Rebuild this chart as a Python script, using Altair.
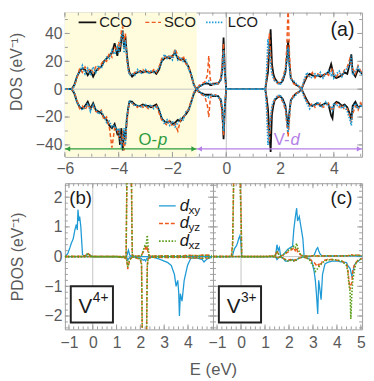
import altair as alt
import pandas as pd

FONT = "Liberation Sans"

# ---------------- Panel (a): total DOS ----------------
E_top = [-6.0, -5.75, -5.65, -5.55, -5.45, -5.35, -5.25, -5.15, -5.05, -4.95,
         -4.85, -4.75, -4.65, -4.55, -4.45, -4.35, -4.25, -4.15, -4.05, -4.0,
         -3.95, -3.9, -3.85, -3.8, -3.75, -3.7, -3.65, -3.6, -3.5, -3.4,
         -3.3, -3.2, -3.1, -3.0, -2.9, -2.8, -2.7, -2.6, -2.5, -2.4,
         -2.3, -2.2, -2.1, -2.0, -1.9, -1.8, -1.7, -1.6, -1.5, -1.4,
         -1.3, -1.2, -1.1, -1.0, -0.9, -0.8, -0.7, -0.65, -0.6, -0.55,
         -0.5, -0.4, -0.3, -0.2, -0.15, -0.1, -0.05, 0.0, 1.45, 1.5,
         1.55, 1.6, 1.65, 1.7, 1.75, 1.8, 1.9, 2.0, 2.1, 2.2,
         2.25, 2.3, 2.35, 2.4, 2.5, 2.6, 2.7, 2.8, 2.9, 3.0,
         3.1, 3.2, 3.3, 3.4, 3.5, 3.6, 3.7, 3.8, 3.9, 3.95,
         4.0, 4.1, 4.2, 4.3, 4.4, 4.5, 4.6, 4.65, 4.7, 4.8,
         4.9, 5.0, 5.05]

CCO_up = [0, 0, 3, 9, 13, 15, 14, 10, 13, 9,
          13, 15, 16, 20, 22, 24, 26, 33, 24, 30,
          27, 36, 42, 30, 38, 26, 17, 12, 9, 11,
          12, 13, 12, 13, 12, 12, 13, 11, 14, 20,
          22, 23, 22, 24, 26, 22, 21, 22, 19, 16,
          10, 3, 0, 2, 3, 4, 4, 4, 3, 3,
          4, 4, 4, 7, 14, 37, 12, 0, 0, 6,
          12, 28, 43, 18, 11, 8, 5, 4, 6, 12,
          22, 35, 18, 8, 5, 3, 2, 0, 5, 9,
          11, 10, 9, 10, 9, 10, 11, 12, 18, 14,
          9, 8, 9, 10, 12, 11, 19, 25, 12, 9,
          14, 12, 11]
CCO_dn = [0, 0, -3, -9, -13, -14, -12, -9, -14, -10,
          -15, -16, -17, -20, -22, -26, -28, -25, -32, -30,
          -40, -28, -44, -30, -36, -22, -14, -9, -9, -11,
          -12, -12, -11, -12, -12, -13, -12, -11, -15, -21,
          -23, -24, -23, -25, -24, -22, -23, -20, -18, -15,
          -9, -3, 0, -2, -3, -4, -4, -4, -4, -4,
          -5, -5, -5, -8, -15, -36, -12, 0, 0, -6,
          -14, -30, -45, -18, -12, -8, -6, -5, -7, -12,
          -20, -28, -16, -8, -5, -3, -2, 0, -4, -8,
          -11, -12, -11, -10, -12, -11, -10, -11, -19, -21,
          -11, -9, -10, -12, -11, -13, -18, -22, -12, -9,
          -13, -12, -11]
SCO_up = [0, 0, 2, 8, 15, 12, 16, 13, 15, 12,
          16, 14, 18, 21, 20, 26, 23, 30, 28, 34,
          30, 42, 45, 34, 40, 22, 15, 11, 10, 12,
          13, 12, 14, 12, 13, 11, 14, 12, 16, 22,
          24, 21, 25, 23, 29, 24, 20, 24, 18, 17,
          9, 3, 0, 3, 4, 5, 10, 24, 8, 4,
          3, 5, 4, 8, 18, 33, 8, 0, 0, 8,
          22, 40, 25, 12, 9, 6, 4, 5, 8, 15,
          30, 60, 25, 9, 4, 3, 2, 0, 6, 10,
          9, 12, 8, 11, 10, 9, 12, 10, 13, 15,
          11, 9, 12, 10, 14, 16, 22, 18, 15, 11,
          17, 13, 12]
SCO_dn = [0, 0, -2, -8, -14, -12, -15, -11, -14, -12,
          -16, -17, -15, -22, -20, -27, -42, -28, -28, -34,
          -33, -40, -30, -44, -38, -25, -16, -10, -10, -12,
          -13, -11, -13, -12, -14, -12, -13, -12, -17, -22,
          -24, -26, -22, -27, -25, -30, -22, -21, -17, -14,
          -8, -2, 0, -3, -4, -5, -12, -20, -8, -4,
          -5, -4, -5, -9, -20, -33, -9, 0, 0, -8,
          -28, -38, -22, -13, -10, -7, -5, -6, -9, -15,
          -25, -34, -22, -9, -4, -3, -2, 0, -5, -9,
          -12, -10, -13, -11, -10, -13, -12, -10, -14, -16,
          -12, -10, -13, -11, -15, -14, -20, -24, -18, -12,
          -15, -10, -12]
LCO_up = [0, 0, 2, 10, 12, 17, 11, 15, 10, 16,
          12, 17, 15, 19, 23, 22, 28, 25, 30, 26,
          33, 38, 40, 26, 35, 24, 14, 10, 11, 10,
          14, 11, 12, 14, 11, 13, 12, 13, 15, 19,
          25, 22, 24, 21, 27, 21, 23, 20, 21, 14,
          11, 2, 0, 2, 3, 4, 5, 6, 4, 3,
          4, 3, 5, 6, 12, 28, 10, 0, 0, 12,
          36, 28, 18, 11, 8, 6, 5, 3, 7, 13,
          20, 30, 15, 7, 6, 4, 2, 0, 7, 12,
          9, 8, 11, 9, 12, 8, 11, 13, 10, 12,
          8, 11, 13, 9, 13, 15, 18, 24, 10, 13,
          16, 12, 10]
LCO_dn = [0, 0, -2, -10, -12, -15, -13, -10, -16, -11,
          -14, -18, -16, -19, -24, -23, -27, -26, -30, -28,
          -35, -42, -36, -28, -40, -20, -15, -8, -10, -12,
          -11, -13, -12, -11, -13, -11, -14, -12, -14, -20,
          -25, -22, -26, -23, -27, -24, -21, -22, -16, -15,
          -10, -2, 0, -2, -3, -5, -5, -6, -4, -4,
          -5, -4, -6, -7, -12, -30, -10, 0, 0, -14,
          -40, -32, -20, -12, -9, -7, -5, -4, -8, -13,
          -22, -31, -18, -8, -6, -4, -2, 0, -6, -10,
          -14, -11, -12, -9, -13, -12, -9, -12, -13, -15,
          -10, -12, -11, -14, -12, -16, -22, -26, -14, -10,
          -14, -11, -13]
series_names = ["CCO", "SCO", "LCO"]
region_names = ["O-", "V-"]
region_letters = ["p", "d"]
region_edges = [-6.0, -1.1, 5.05]

# ---------------- Panel (b): V4+ PDOS ----------------
E_b = [-1.17, -1.05, -0.96, -0.9, -0.82, -0.75, -0.69, -0.65, -0.62, -0.58,
       -0.55, -0.5, -0.47, -0.43, -0.35, -0.25, -0.2, -0.12, 0.0, 0.5,
       1.0, 1.4, 1.44, 1.47, 1.5, 1.55, 1.62, 1.66, 1.75, 2.0,
       2.05, 2.08, 2.12, 2.18, 2.22, 2.26, 2.29, 2.32, 2.36, 2.5,
       2.75, 3.0, 3.15, 3.3, 3.43, 3.5, 3.57, 3.61, 3.64, 3.68,
       3.75, 3.84, 3.98, 4.12, 4.4, 4.6, 4.67, 4.8, 5.0]
b_xy_up = [0.0, 0.1, 0.3, 0.45, 0.6, 0.9, 1.08, 0.9, 1.58, 1.2,
           1.35, 1.0, 0.6, 0.07, 0.0, 0.05, 0.1, 0.05, 0.0, 0.0,
           0.0, 0.0, 0.05, 0.15, 0.22, 0.05, 0.02, 0.0, 0.0, 0.0,
           0.0, 0.0, 0.0, 0.0, 0.0, 0.0, 0.0, 0.0, 0.0, 0.0,
           0.0, 0.0, 0.0, 0.0, 0.0, 0.0, 0.0, 0.0, 0.0, 0.0,
           0.0, 0.0, 0.0, 0.0, 0.0, 0.0, 0.0, 0.0, 0.0]
b_xy_dn = [0.0, 0.0, 0.0, 0.0, 0.0, 0.0, 0.0, 0.0, 0.0, 0.0,
           0.0, 0.0, 0.0, 0.0, 0.0, 0.0, 0.0, 0.0, 0.0, 0.0,
           0.0, 0.0, -0.05, -0.12, -0.08, -0.03, 0.0, 0.0, -0.02, -0.05,
           -0.08, -0.1, -0.12, -0.1, -0.15, -0.08, -0.05, -0.05, -0.03, -0.02,
           -0.07, -0.15, -0.2, -0.3, -0.6, -1.0, -0.8, -1.2, -2.0, -1.25,
           -1.5, -0.8, -0.3, -0.05, -0.05, -0.1, -0.18, -0.08, -0.02]
b_yz_up = [0, 0, 0, 0, 0, 0, 0, 0, 0, 0,
           0, 0, 0, 0, 0.02, 0.08, 0.1, 0.05, 0, 0,
           0, 0, 3.0, 2.9, 3.0, 3.0, 3.0, 0.05, 0.02, 0.02,
           0.05, 0.1, 0.15, 0.25, 0.3, 0.2, 0.35, 0.15, 0.03, 0.02,
           0.02, 0.03, 0.02, 0.02, 0.03, 0.02, 0.02, 0.02, 0.02, 0.02,
           0.02, 0.03, 0.05, 0.04, 0.03, 0.05, 0.04, 0.05, 0.03]
b_yz_dn = [0, 0, 0, 0, 0, 0, 0, 0, 0, 0,
           0, 0, 0, 0, 0, 0, 0, 0, 0, 0,
           0, -0.05, -0.2, -0.42, -0.3, -0.1, -0.05, -0.02, -0.02, -0.1,
           -0.3, -2.7, -2.7, -2.7, -2.7, -2.7, -0.3, -0.1, -0.05, -0.02,
           -0.02, -0.03, -0.03, -0.02, -0.03, -0.02, -0.03, -0.03, -0.02, -0.02,
           -0.02, -0.02, -0.03, -0.05, -0.04, -0.06, -0.05, -0.05, -0.03]
b_xz_up = [0, 0, 0, 0, 0, 0, 0, 0, 0, 0,
           0, 0, 0, 0, 0.02, 0.08, 0.1, 0.05, 0, 0,
           0, 0, 3.0, 3.0, 2.9, 3.0, 3.0, 0.05, 0.02, 0.02,
           0.05, 0.1, 0.2, 0.35, 0.3, 0.5, 0.72, 0.4, 0.05, 0.02,
           0.02, 0.02, 0.03, 0.02, 0.02, 0.03, 0.02, 0.02, 0.02, 0.03,
           0.02, 0.02, 0.03, 0.04, 0.03, 0.04, 0.05, 0.04, 0.03]
b_xz_dn = [0, 0, 0, 0, 0, 0, 0, 0, 0, 0,
           0, 0, 0, 0, 0, 0, 0, 0, 0, 0,
           0, -0.05, -0.15, -0.35, -0.25, -0.1, -0.05, -0.02, -0.02, -0.08,
           -0.25, -2.7, -2.7, -2.7, -2.7, -2.7, -0.35, -0.1, -0.05, -0.02,
           -0.02, -0.02, -0.03, -0.02, -0.02, -0.03, -0.02, -0.02, -0.03, -0.02,
           -0.02, -0.03, -0.02, -0.04, -0.03, -0.05, -0.04, -0.04, -0.03]

# ---------------- Panel (c): V3+ PDOS ----------------
E_c = [-1.17, -0.8, -0.5, -0.4, -0.35, -0.3, -0.25, -0.2, -0.15, -0.1,
       -0.05, 0.0, 0.03, 0.5, 1.0, 1.4, 1.45, 1.5, 1.55, 1.6,
       1.65, 1.75, 1.85, 1.95, 2.05, 2.15, 2.2, 2.26, 2.32, 2.36,
       2.43, 2.5, 2.58, 2.63, 2.75, 2.9, 2.95, 3.05, 3.1, 3.15,
       3.2, 3.24, 3.29, 3.34, 3.4, 3.5, 3.6, 3.8, 4.0, 4.2,
       4.4, 4.45, 4.5, 4.55, 4.58, 4.62, 4.66, 4.72, 4.8, 4.9,
       5.0, 5.1]
c_xy_up = [0, 0, 0, 0, 0.05, 0.2, 0.3, 0.35, 0.45, 0.6,
           0.7, 0.45, 0, 0, 0, 0, 0.1, 0.4, 0.2, 0.3,
           0.02, 0.05, 0.15, 0.25, 0.3, 0.35, 0.9, 1.3, 1.63, 1.2,
           1.35, 1.0, 0.6, 0.02, 0.0, 0.0, 0.02, 0.05, 0.15, 0.25,
           0.3, 0.2, 0.1, 0.05, 0.02, 0.02, 0.02, 0.02, 0.02, 0.03,
           0.02, 0.02, 0.03, 0.02, 0.02, 0.03, 0.02, 0.03, 0.02, 0.02,
           0.02, 0.0]
c_xy_dn = [0, 0, 0, 0, 0, 0, 0, 0, 0, 0,
           0, 0, 0, 0, 0, 0, -0.02, -0.1, -0.05, -0.02,
           -0.02, -0.05, -0.15, -0.15, -0.12, -0.1, -0.15, -0.12, -0.1, -0.08,
           -0.05, -0.03, -0.02, -0.02, -0.05, -0.1, -0.15, -0.5, -0.8, -1.3,
           -1.93, -0.8, -1.1, -1.45, -0.6, -0.25, -0.2, -0.15, -0.15, -0.18,
           -0.2, -0.3, -0.35, -0.4, -0.5, -0.65, -0.55, -0.3, -0.2, -0.15,
           -0.08, -0.05]
c_yz_up = [0, 0, 0, 0.02, 0.5, 3.0, 3.0, 3.0, 3.0, 3.0,
           3.0, 1.5, 0, 0, 0, 0.02, 0.08, 0.2, 0.1, 0.05,
           0.02, 0.05, 0.1, 0.15, 0.2, 0.25, 0.3, 0.2, 0.3, 0.15,
           0.1, 0.05, 0.03, 0.02, 0.02, 0.02, 0.03, 0.03, 0.02, 0.02,
           0.03, 0.02, 0.02, 0.02, 0.02, 0.03, 0.02, 0.02, 0.03, 0.02,
           0.03, 0.03, 0.04, 0.05, 0.05, 0.06, 0.05, 0.04, 0.06, 0.05,
           0.04, 0.03]
c_yz_dn = [0, 0, 0, 0, 0, 0, 0, 0, 0, 0,
           0, 0, 0, 0, 0, 0, -0.03, -0.05, -0.03, -0.02,
           -0.02, -0.05, -0.1, -0.12, -0.1, -0.12, -0.15, -0.1, -0.12, -0.08,
           -0.05, -0.03, -0.02, -0.02, -0.05, -0.1, -0.15, -0.2, -0.25, -0.3,
           -0.25, -0.3, -0.2, -0.25, -0.15, -0.12, -0.1, -0.1, -0.12, -0.15,
           -0.25, -0.4, -0.8, -1.1, -0.95, -0.9, -0.5, -0.3, -0.2, -0.1,
           -0.08, -0.05]
c_xz_up = [0, 0, 0, 0.02, 0.3, 3.0, 3.0, 3.0, 3.0, 3.0,
           3.0, 1.2, 0, 0, 0, 0.02, 0.05, 0.15, 0.1, 0.05,
           0.02, 0.05, 0.12, 0.2, 0.25, 0.3, 0.35, 0.3, 0.45, 0.3,
           0.15, 0.05, 0.03, 0.02, 0.02, 0.02, 0.02, 0.03, 0.02, 0.02,
           0.02, 0.02, 0.03, 0.02, 0.02, 0.02, 0.03, 0.02, 0.02, 0.02,
           0.03, 0.03, 0.04, 0.04, 0.05, 0.05, 0.04, 0.04, 0.05, 0.04,
           0.03, 0.03]
c_xz_dn = [0, 0, 0, 0, 0, 0, 0, 0, 0, 0,
           0, 0, 0, 0, 0, 0, -0.02, -0.04, -0.03, -0.02,
           -0.02, -0.05, -0.1, -0.15, -0.12, -0.15, -0.12, -0.15, -0.1, -0.08,
           -0.05, -0.03, -0.02, -0.02, -0.05, -0.15, -0.25, -0.35, -0.5, -0.45,
           -0.4, -0.35, -0.3, -0.25, -0.2, -0.15, -0.12, -0.1, -0.12, -0.15,
           -0.3, -0.5, -0.9, -1.2, -2.1, -1.3, -0.8, -0.5, -0.2, -0.12,
           -0.08, -0.05]
orbitals = ["xy", "yz", "xz"]
ion_labels = ["4+", "3+"]

# tick labels
top_x_ticks = [-6, -4, -2, 0, 2, 4]
top_y_ticks = [-40, -20, 0, 20, 40]
b_x_ticks = [-1, 0, 1, 2, 3, 4]
c_x_ticks = [-1, 0, 1, 2, 3, 4, 5]
p_y_ticks = [-2, -1, 0, 1, 2]
top_x_minor = [-6 + 0.5 * i for i in range(23)]
top_y_minor = list(range(-40, 51, 10))
p_x_minor = [round(-1.0 + 0.2 * i, 1) for i in range(31)]
p_y_minor = [round(-2.4 + 0.2 * i, 1) for i in range(25)]

# ---------------- styles / layout ----------------
BLACK, ORANGE, BLUE, GREEN = "#111111", "#EE5A1E", "#1E9AD6", "#5A9E1A"
OP_GREEN, VD_PURPLE = "#2E9B3E", "#B47FE6"
YELLOW, FRAME, ZERO, LBL = "#FEFCDC", "#9E9E9E", "#C4C4C4", "#5A5A5A"
top_style = {"CCO": (BLACK, [1, 0], 1.8), "SCO": (ORANGE, [4, 2.5], 1.5),
             "LCO": (BLUE, [1.5, 1.5], 1.7)}
orb_style = {"xy": (BLUE, [1, 0], 1.3), "yz": (ORANGE, [4, 2], 1.5),
             "xz": (GREEN, [1.6, 1.6], 1.6)}

TOP_W, TOP_H = 303, 147
B_W, C_W, P_H = 151, 152, 149

ONE = pd.DataFrame({"k": [0]})


def axis_common(**kw):
    base = dict(grid=False, ticks=False, domain=False, labelFontSize=16,
                labelColor=LBL, labelFont=FONT, labelFlush=False,
                labelOverlap=False, titleFontSize=16, titleColor=LBL,
                titleFont=FONT, titleFontWeight="normal")
    base.update(kw)
    return alt.Axis(**base)


def txt(s, x, y, size, color="#1a1a1a", align="left", style="normal"):
    return alt.Chart(ONE).mark_text(
        text=s, align=align, baseline="middle", fontSize=size, font=FONT,
        color=color, fontStyle=style).encode(x=alt.value(x), y=alt.value(y))


def seg(x0, x1, y, color, dash, width):
    return alt.Chart(ONE).mark_rule(
        color=color, strokeDash=dash, strokeWidth=width).encode(
        x=alt.value(x0), x2=alt.value(x1), y=alt.value(y))


def series_df(E, up, dn):
    n = len(E)
    return pd.DataFrame({"E": list(E) + list(E), "v": list(up) + list(dn),
                         "spin": ["up"] * n + ["dn"] * n})


def line_layer(df, xs, ys, xax, yax, style):
    color, dash, width = style
    return alt.Chart(df).mark_line(
        clip=True, color=color, strokeDash=dash, strokeWidth=width).encode(
        x=alt.X("E:Q", scale=xs, axis=xax),
        y=alt.Y("v:Q", scale=ys, axis=yax),
        detail="spin:N")


def decor(xs, ys, xax, yax, W, H, xmaj, xmin, ymaj, ymin):
    layers = [
        alt.Chart(pd.DataFrame({"E": [0.0]})).mark_rule(color=ZERO, strokeWidth=1)
        .encode(x=alt.X("E:Q", scale=xs, axis=xax)),
        alt.Chart(pd.DataFrame({"v": [0.0]})).mark_rule(color=ZERO, strokeWidth=1)
        .encode(y=alt.Y("v:Q", scale=ys, axis=yax)),
    ]
    for vals, L in ((xmaj, 5), (xmin, 3)):
        d = pd.DataFrame({"E": vals})
        layers.append(alt.Chart(d).mark_rule(color=FRAME, strokeWidth=1).encode(
            x=alt.X("E:Q", scale=xs, axis=xax), y=alt.value(0), y2=alt.value(L)))
        layers.append(alt.Chart(d).mark_rule(color=FRAME, strokeWidth=1).encode(
            x=alt.X("E:Q", scale=xs, axis=xax), y=alt.value(H), y2=alt.value(H - L)))
    for vals, L in ((ymaj, 5), (ymin, 3)):
        d = pd.DataFrame({"v": vals})
        layers.append(alt.Chart(d).mark_rule(color=FRAME, strokeWidth=1).encode(
            y=alt.Y("v:Q", scale=ys, axis=yax), x=alt.value(0), x2=alt.value(L)))
        layers.append(alt.Chart(d).mark_rule(color=FRAME, strokeWidth=1).encode(
            y=alt.Y("v:Q", scale=ys, axis=yax), x=alt.value(W), x2=alt.value(W - L)))
    return layers


# ---------------- top panel ----------------
xs_top = alt.Scale(domain=[-6, 5.05], nice=False, zero=False)
ys_top = alt.Scale(domain=[-48.5, 55], nice=False, zero=False)
ax_top_x = axis_common(values=top_x_ticks, title=None, labelPadding=4)
ax_top_y = axis_common(values=top_y_ticks, title="DOS (eV⁻¹)", labelPadding=3,
                       minExtent=32, maxExtent=32, titlePadding=8,
                       titleX=-49, titleY=60, titleAngle=270,
                       titleAlign="center", titleBaseline="middle")

reg = pd.DataFrame({"name": region_names, "x0": region_edges[:-1],
                    "x1": region_edges[1:]})
reg_color = alt.Color("name:N", scale=alt.Scale(domain=region_names,
                                                range=[OP_GREEN, VD_PURPLE]),
                      legend=None)
ARROW_Y = 139

top_layers = [
    alt.Chart(reg.iloc[[0]]).mark_rect(color=YELLOW).encode(
        x=alt.X("x0:Q", scale=xs_top, axis=ax_top_x), x2="x1:Q",
        y=alt.value(0), y2=alt.value(TOP_H)),
]
top_layers += decor(xs_top, ys_top, ax_top_x, ax_top_y, TOP_W, TOP_H,
                    top_x_ticks, top_x_minor, top_y_ticks, top_y_minor)
for name, up, dn in zip(series_names, [CCO_up, SCO_up, LCO_up],
                        [CCO_dn, SCO_dn, LCO_dn]):
    top_layers.append(line_layer(series_df(E_top, up, dn), xs_top, ys_top,
                                 ax_top_x, ax_top_y, top_style[name]))
top_layers += [
    alt.Chart(reg).mark_rule(strokeWidth=1.3).encode(
        x=alt.X("x0:Q", scale=xs_top, axis=ax_top_x), x2="x1:Q",
        y=alt.value(ARROW_Y), color=reg_color),
    alt.Chart(reg).mark_point(shape="triangle-left", filled=True, opacity=1,
                              size=30, xOffset=3).encode(
        x=alt.X("x0:Q", scale=xs_top, axis=ax_top_x), y=alt.value(ARROW_Y),
        color=reg_color),
    alt.Chart(reg).mark_point(shape="triangle-right", filled=True, opacity=1,
                              size=30, xOffset=-3).encode(
        x=alt.X("x1:Q", scale=xs_top, axis=ax_top_x), y=alt.value(ARROW_Y),
        color=reg_color),
    txt(region_names[0], 94, 130, 17, OP_GREEN, align="right"),
    txt(region_letters[0], 95, 130, 17, OP_GREEN, style="italic"),
    txt(region_names[1], 229, 130, 17, VD_PURPLE, align="right"),
    txt(region_letters[1], 230, 130, 17, VD_PURPLE, style="italic"),
    txt("(a)", 283, 18, 20, align="center"),
]
leg_pos = [(14, 32, 35), (82, 98, 101), (144, 162, 166)]
for name, (a, b, t) in zip(series_names, leg_pos):
    c, d, w = top_style[name]
    top_layers.append(seg(a, b, 10, c, d, w))
    top_layers.append(txt(name, t, 10, 15))

top = alt.layer(*top_layers).properties(width=TOP_W, height=TOP_H)

# ---------------- bottom panels ----------------
xs_p = alt.Scale(domain=[-1.17, 5.05], nice=False, zero=False)
ys_p = alt.Scale(domain=[-2.45, 2.47], nice=False, zero=False)
ax_b_x = axis_common(values=b_x_ticks, title="E (eV)", labelPadding=5,
                     titleX=B_W, titleY=41, titleBaseline="middle",
                     titleFontSize=17)
ax_b_y = axis_common(values=p_y_ticks, title="PDOS (eV⁻¹)", labelPadding=3,
                     minExtent=32, maxExtent=32, titlePadding=8)
ax_c_x = axis_common(values=c_x_ticks, title=None, labelPadding=5)


def pdos_panel(E, data, W, xax, yax, xmaj, tag, tag_x, ion, legend):
    layers = decor(xs_p, ys_p, xax, yax, W, P_H, xmaj, p_x_minor,
                   p_y_ticks, p_y_minor)
    for orb in orbitals:
        up, dn = data[orb]
        layers.append(line_layer(series_df(E, up, dn), xs_p, ys_p, xax, yax,
                                 orb_style[orb]))
    layers.append(txt(tag, tag_x, 15, 19, align="center"))
    layers.append(alt.Chart(ONE).mark_rect(fill="white", stroke="#222",
                                           strokeWidth=2).encode(
        x=alt.value(6), x2=alt.value(49), y=alt.value(105), y2=alt.value(142)))
    layers.append(txt("V", 28, 126, 21, align="right"))
    layers.append(txt(ion, 28.5, 117, 14))
    if legend:
        for orb, yy in zip(orbitals, [23, 41, 59]):
            c, d, w = orb_style[orb]
            layers.append(seg(96, 113, yy, c, d, w))
            layers.append(txt("d", 117, yy, 17, style="italic"))
            layers.append(txt(orb, 126, yy + 4, 12))
    return alt.layer(*layers).properties(width=W, height=P_H)


panel_b = pdos_panel(E_b, {"xy": (b_xy_up, b_xy_dn), "yz": (b_yz_up, b_yz_dn),
                           "xz": (b_xz_up, b_xz_dn)},
                     B_W, ax_b_x, ax_b_y, b_x_ticks, "(b)", 16, ion_labels[0], True)
panel_c = pdos_panel(E_c, {"xy": (c_xy_up, c_xy_dn), "yz": (c_yz_up, c_yz_dn),
                           "xz": (c_xz_up, c_xz_dn)},
                     C_W, ax_c_x, None, c_x_ticks, "(c)", 131, ion_labels[1], False)

bottom = alt.hconcat(panel_b, panel_c, spacing=0, bounds="flush")

chart = (alt.vconcat(top, bottom, spacing=5)
         .properties(padding={"left": 0, "top": 0, "right": 0, "bottom": 0})
         .configure(font=FONT)
         .configure_view(stroke=FRAME, strokeWidth=1))

chart.save("out.html", embed_options={"renderer": "svg", "actions": False})
